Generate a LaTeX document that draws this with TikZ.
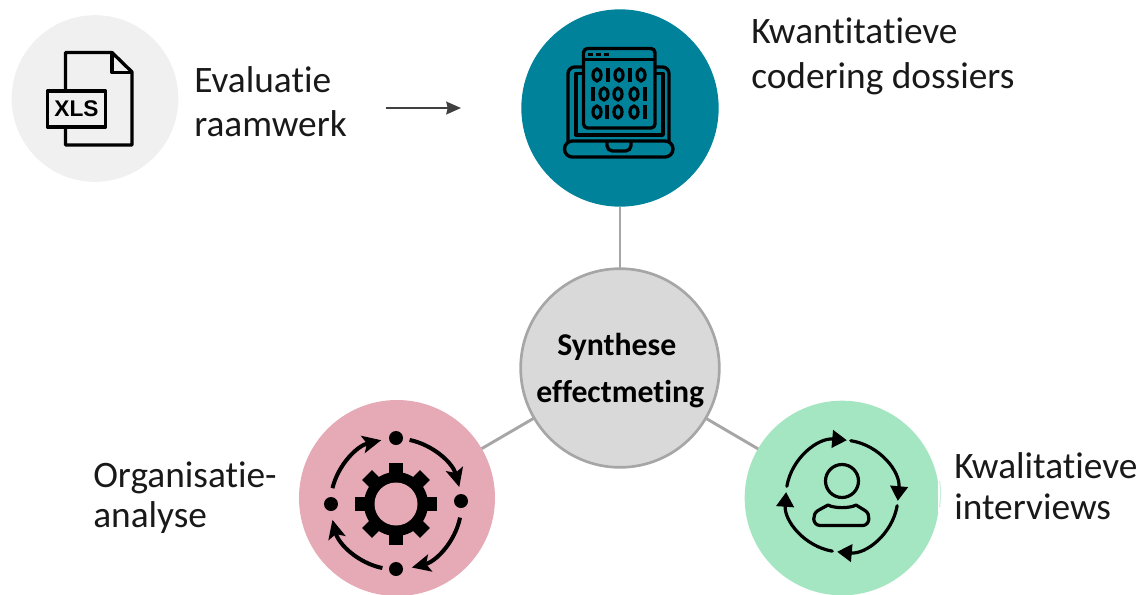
\documentclass[tikz,border=0pt]{standalone}
\usepackage{fontspec}
\setmainfont{Carlito}[Ligatures=NoCommon]
\newfontfamily\iconfont{Liberation Sans}
\usetikzlibrary{arrows.meta}
\definecolor{evalgray}{RGB}{240,240,240}
\definecolor{codeteal}{RGB}{0,130,155}
\definecolor{orgpink}{RGB}{229,170,182}
\definecolor{intgreen}{RGB}{164,230,193}
\definecolor{synthgray}{RGB}{217,217,217}
\definecolor{linegray}{RGB}{166,166,166}
\tikzset{
  bigdisc/.style={circle,inner sep=0pt,outer sep=0pt,minimum size=#1},
  caption/.style={anchor=base west,inner sep=0pt,font=\fontsize{28}{32}\selectfont,text=black!90},
  boldcaption/.style={anchor=base west,inner sep=0pt,font=\fontsize{23.8}{28}\selectfont\bfseries},
  spoke/.style={draw=linegray,line width=2.2pt},
  iconline/.style={draw=black,line width=2.5pt,line join=round},
  thinicon/.style={draw=black,line width=2.4pt,line join=round,line cap=round},
}
\begin{document}
\begin{tikzpicture}[x=0.75pt,y=0.75pt,yscale=-1]
\clip (0,0) rectangle (1140,594);

% Discs
\node (evaluatie) [bigdisc=125pt,fill=evalgray] at (95,98.5) {};
\node (codering) [bigdisc=148pt,fill=codeteal] at (620,108) {};
\node (organisatie) [bigdisc=147pt,fill=orgpink] at (397,498) {};
\node (interviews) [bigdisc=146pt,fill=intgreen] at (842,498) {};
\fill [white] (937.5,470) rectangle (943,512);
\draw [intgreen!60,line width=0.8pt] (939.5,481) .. controls (941,490) and (941,498) .. (939.5,507);
\node (synthese) [bigdisc=149pt,fill=synthgray,draw=linegray,line width=2pt] at (620,368) {};

% Connectors
\draw [spoke] (synthese) -- (codering);
\draw [spoke] (synthese) -- (organisatie);
\draw [spoke] (synthese) -- (interviews);
\coordinate (pijlstart) at (386,108);
\coordinate (pijleind) at (461,108);
\draw [draw=black!75,line width=1.6pt,-{Stealth[length=11pt,width=9.5pt,inset=1pt]}] (pijlstart) -- (pijleind);

% XLS file icon
\draw [iconline] (65.5,91) -- (65.5,52.5) -- (112,52.5) -- (132,72) -- (132,145) -- (65.5,145) -- (65.5,127);
\draw [iconline] (112,52.5) -- (112,72.5) -- (132,72.5);
\draw [iconline] (47.5,91) rectangle (105.5,127);
\node (xls) [inner sep=0pt,font=\iconfont\bfseries\fontsize{17}{18}\selectfont] at (76.5,109) {XLS};

% Laptop icon
\draw [iconline,rounded corners=5pt] (568,141) -- (568,67) -- (669,67) -- (669,141);
\draw [iconline] (576,135) -- (576,73.5) -- (663,73.5) -- (663,135) -- cycle;
\draw [iconline,fill=codeteal,rounded corners=3pt] (583.5,128) rectangle (655,48.5);
\draw [iconline] (583.5,59.5) -- (655,59.5);
\foreach \x in {590,598,606} \draw [line width=2pt] (\x-2.5,54.5) -- (\x+2.5,54.5);
\draw [iconline,rounded corners=6pt,fill=codeteal] (564.5,141) -- (673,141) -- (673,157) -- (564.5,157) -- cycle;
\draw [iconline,rounded corners=4pt] (607,141) -- (607,151) -- (631,151) -- (631,141);
\foreach \x/\y in {597/75,619/75,641/75,  604/94,618/94,634/94,  597/112,618/112,634/112}
  \draw [line width=2.4pt] (\x,\y) ellipse (4 and 6);
\foreach \x/\y in {608/75,630/75,  593/94,645/94,  607/112,645/112}
  \draw [line width=2.8pt] (\x,\y-7) -- (\x,\y+7);

% Gear icon
\fill (396,504) circle (32);
\foreach \a in {0,45,...,315}
  \fill [rotate around={\a:(396,504)}] (389,463) rectangle (403,480);
\fill [orgpink] (396,504) circle (21.5);
\foreach \x/\y in {396/438,461/501,396/569,331/504} \fill (\x,\y) circle (7);
\foreach \s/\e in {-78/-15,12/76,102/166,194/257}
  \draw [line width=3pt,-{Stealth[length=14pt,width=13pt,inset=3pt]}] (396,504) ++(\s:65.5) arc [start angle=\s,end angle=\e,radius=65.5];

% Person icon
\draw [thinicon] (842,481) circle (16.5);
\draw [thinicon] (828,505) .. controls (834,508.5) and (850,508.5) .. (856,505) -- (865,510.5) .. controls (871,514) and (870,525) .. (863,525.5) -- (820,525.5) .. controls (812,525) and (812,514) .. (818,510.5) -- cycle;
\foreach \s/\e in {190/275,-81/5,10/95,100/184}
  \draw [thinicon,-{Triangle[length=11pt,width=13pt]}] (842,496) ++(\s:56) arc [start angle=\s,end angle=\e,radius=56];

% Text Node
\node (evaluatietxt) [caption] at (194,92) {Evaluatie};
\node (raamwerktxt) [caption] at (194,136) {raamwerk};
\node (kwantitatieftxt) [caption] at (751,43) {Kwantitatieve};
\node (dossierstxt) [caption] at (751,88) {codering dossiers};
\node (orgtxt) [caption] at (93,487) {Organisatie-};
\node (analysetxt) [caption] at (93,527) {analyse};
\node (kwalitatieftxt) [caption] at (954,478) {Kwalitatieve};
\node (interviewstxt) [caption] at (954,519) {interviews};
\node (synthesetxt) [boldcaption] at (557,355) {Synthese};
\node (effecttxt) [boldcaption] at (536,402) {effectmeting};
\end{tikzpicture}
\end{document}
